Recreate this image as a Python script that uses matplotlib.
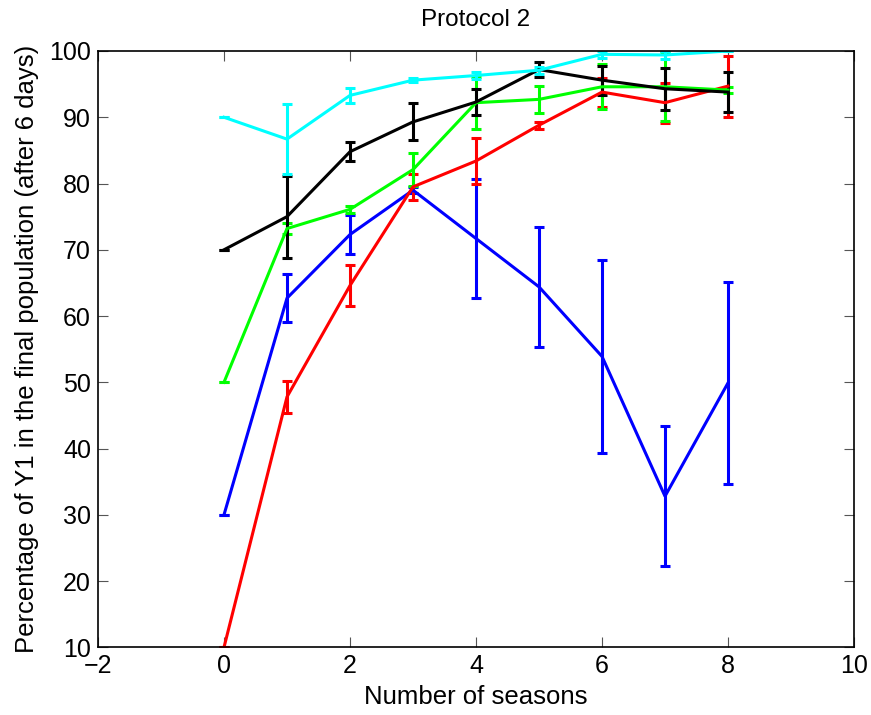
import matplotlib
matplotlib.use("Agg")
import matplotlib.pyplot as plt
import numpy as np

plt.rcParams['font.family'] = ['Liberation Sans', 'DejaVu Sans']

seasons = [0, 1, 2, 3, 4, 5, 6, 7, 8]

blue_mean = [30.0, 62.7, 72.3, 79.0, 71.7, 64.4, 53.9, 32.8, 49.9]
blue_err = [0.0, 3.6, 3.0, 0.5, 9.0, 9.1, 14.5, 10.6, 15.3]

red_mean = [10.0, 47.8, 64.6, 79.5, 83.4, 88.8, 93.8, 92.2, 94.7]
red_err = [0.0, 2.4, 3.1, 2.0, 3.5, 0.5, 2.2, 3.0, 4.6]

green_mean = [50.0, 73.2, 76.1, 82.1, 92.2, 92.7, 94.6, 94.6, 94.1]
green_err = [0.0, 0.8, 0.5, 2.5, 3.9, 2.0, 3.4, 5.2, 0.5]

black_mean = [70.0, 75.0, 84.8, 89.3, 92.3, 97.2, 95.6, 94.3, 93.8]
black_err = [0.0, 6.2, 1.45, 2.8, 2.0, 1.1, 2.2, 3.2, 3.05]

cyan_mean = [90.0, 86.7, 93.3, 95.6, 96.3, 97.1, 99.5, 99.4, 100.0]
cyan_err = [0.0, 5.3, 1.15, 0.3, 0.6, 0.5, 0.5, 0.6, 0.0]

series = [
    (blue_mean, blue_err, '#0000ff'),
    (red_mean, red_err, '#ff0000'),
    (green_mean, green_err, '#00ff00'),
    (black_mean, black_err, '#000000'),
    (cyan_mean, cyan_err, '#00ffff'),
]

fig = plt.figure(figsize=(8.71, 7.15), dpi=100)
ax = fig.add_axes([98 / 871, 1 - 647.3 / 715, (854 - 98) / 871, (647.3 - 51) / 715])

for mean, err, color in series:
    ax.errorbar(seasons, mean, yerr=err, color=color, lw=2.2, elinewidth=2.2,
                capsize=3.5, capthick=2.2)

ax.set_xlim(-2, 10)
ax.set_ylim(10, 100)
ax.set_xticks(np.arange(-2, 11, 2))
ax.set_yticks(np.arange(10, 101, 10))
ax.set_xticklabels(['\u22122', '0', '2', '4', '6', '8', '10'])
ax.tick_params(direction='in', top=True, right=True, length=7, width=0.8,
               labelsize=18, pad=5, color='#555555')
for s in ax.spines.values():
    s.set_linewidth(1.2)

ax.set_title('Protocol 2', fontsize=17.5, pad=18)
ax.set_xlabel('Number of seasons', fontsize=18.5, labelpad=5)
ax.set_ylabel('Percentage of Y1 in the final population (after 6 days)', fontsize=18.5, labelpad=7)

fig.savefig('out.png', dpi=100)
